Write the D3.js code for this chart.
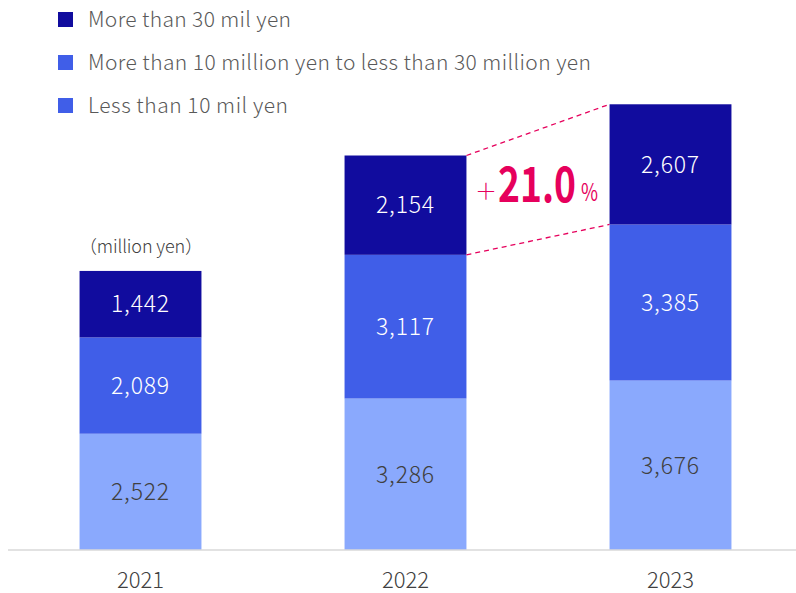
<!DOCTYPE html>
<html>
<head>
<meta charset="utf-8">
<script src="https://cdn.jsdelivr.net/npm/d3@7"></script>
<style>
  html, body { margin: 0; padding: 0; background: #ffffff; }
  svg { display: block; font-family: "Noto Sans CJK JP", "Noto Sans", sans-serif; }
</style>
</head>
<body>
<svg id="chart" width="796" height="593"></svg>
<script>
// Sales by deal size (million yen)
const years = ["2021", "2022", "2023"];
const under10 = [2522, 3286, 3676];
const from10to30 = [2089, 3117, 3385];
const over30 = [1442, 2154, 2607];
const seriesNames = [
  "More than 30 mil yen",
  "More than 10 million yen to less than 30 million yen",
  "Less than 10 mil yen"
];
const growthLabel = "21.0";

const colors = { under10: "#8aa9fd", from10to30: "#405ee8", over30: "#110c9e" };
const legendColors = ["#110c9e", "#405ee8", "#405ee8"];
const legendWidths = [203, 503, 200];

const svg = d3.select("#chart");
const baseY = 550;

const x = d3.scaleBand().domain(years).range([8, 803]).paddingInner(0.54).paddingOuter(0.27);
const y = d3.scaleLinear().domain([0, 11930]).range([baseY, 0]);

const keys = ["under10", "from10to30", "over30"];
const rows = years.map((yr, i) => ({ year: yr, under10: under10[i], from10to30: from10to30[i], over30: over30[i] }));
const stacked = d3.stack().keys(keys)(rows);

// bars
const layers = svg.append("g").selectAll("g").data(stacked).join("g")
  .attr("fill", d => colors[d.key]);
layers.selectAll("rect").data(d => d).join("rect")
  .attr("x", d => x(d.data.year))
  .attr("width", x.bandwidth())
  .attr("y", d => y(d[1]))
  .attr("height", d => y(d[0]) - y(d[1]));

// value labels
const fmt = d3.format(",");
stacked.forEach(layer => {
  svg.append("g").selectAll("text").data(layer).join("text")
    .attr("x", d => x(d.data.year) + x.bandwidth() / 2)
    .attr("y", d => (y(d[0]) + y(d[1])) / 2)
    .attr("dy", "0.36em")
    .attr("text-anchor", "middle")
    .attr("font-size", 23)
    .attr("font-weight", 300)
    .attr("letter-spacing", 0.8)
    .attr("fill", layer.key === "under10" ? "#404040" : "#ffffff")
    .text(d => fmt(d.data[layer.key]));
});

// axis baseline and year labels
const xAxis = svg.append("g").attr("transform", `translate(0,${baseY})`)
  .call(d3.axisBottom(x).tickSize(0).tickPadding(22));
xAxis.select(".domain").attr("d", "M8,0H796").attr("stroke", "#d9d9d9").attr("stroke-width", 1.5);
xAxis.selectAll(".tick text")
  .attr("font-size", 22).attr("font-weight", 300).attr("fill", "#404040")
  .attr("font-family", "\"Noto Sans CJK JP\", sans-serif");

// unit note
svg.append("text").attr("x", 79).attr("y", 253)
  .attr("font-size", 18).attr("fill", "#404040").attr("font-weight", 300)
  .attr("textLength", 124).attr("lengthAdjust", "spacing")
  .text("（million yen）");

// legend
const legend = svg.append("g");
seriesNames.forEach((name, i) => {
  const base = 27 + i * 43;
  legend.append("rect").attr("x", 58).attr("y", base - 15).attr("width", 15).attr("height", 15)
    .attr("fill", legendColors[i]);
  legend.append("text").attr("x", 88).attr("y", base)
    .attr("font-size", 21).attr("font-weight", 300).attr("fill", "#595959")
    .attr("textLength", legendWidths[i]).attr("lengthAdjust", "spacing")
    .text(name);
});

// growth connector between 2022 and 2023 top segments
const top22 = stacked[2][1], top23 = stacked[2][2];
const x22 = x("2022") + x.bandwidth(), x23 = x("2023");
const pink = "#e6005c";
[[top22[1], top23[1]], [top22[0], top23[0]]].forEach(([a, b]) => {
  svg.append("line")
    .attr("x1", x22).attr("y1", y(a)).attr("x2", x23).attr("y2", y(b))
    .attr("stroke", pink).attr("stroke-width", 1.3).attr("stroke-dasharray", "5,4");
});

const growth = svg.append("g").attr("fill", pink);
growth.append("text").attr("x", 475).attr("y", 199)
  .attr("font-size", 22).attr("font-weight", 300).text("＋");
// condensed bold figure: scale horizontally to the target width
const big = growth.append("text").attr("x", 0).attr("y", 0)
  .attr("font-size", 48).attr("font-weight", 700)
  .text(growthLabel);
const bigScale = 78 / big.node().getComputedTextLength();
big.attr("transform", `translate(498,202) scale(${bigScale},1)`);
growth.append("text").attr("x", 581).attr("y", 201)
  .attr("font-size", 24).attr("font-weight", 400)
  .attr("textLength", 17).attr("lengthAdjust", "spacingAndGlyphs")
  .text("%");
</script>
</body>
</html>
